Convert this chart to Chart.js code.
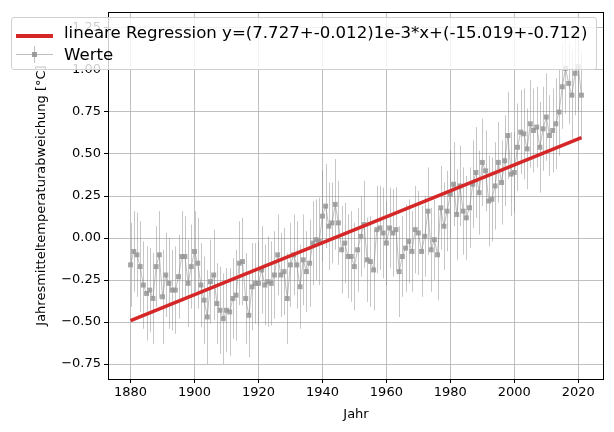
<!DOCTYPE html>
<html>
<head>
<meta charset="utf-8">
<script src="https://cdn.jsdelivr.net/npm/chart.js@4.4.1/dist/chart.umd.min.js"></script>
<style>
  body { margin: 0; background: #fff; }
  #wrap { position: relative; width: 614px; height: 432px; }
  #legend {
    position: absolute; left: 11px; top: 17px; width: 584px; height: 51px;
    background: rgba(255,255,255,0.8); border: 1px solid #d0d0d0; border-radius: 3px;
    font: 16.6px 'DejaVu Sans', sans-serif; color: #000;
  }
  #legend .txt { position: absolute; left: 52px; line-height: 20px; white-space: nowrap; }
</style>
</head>
<body>
<div id="wrap">
  <canvas id="chart" width="614" height="432"></canvas>
  <div id="legend">
    <div style="position:absolute;left:4px;top:16px;width:37px;height:4px;background:#d62728"></div>
    <div class="txt" style="top:5px">lineare Regression y=(7.727+-0.012)1e-3*x+(-15.019+-0.712)</div>
    <div style="position:absolute;left:4px;top:36px;width:37px;height:1px;background:rgba(128,128,128,0.5)"></div>
    <div style="position:absolute;left:22px;top:28px;width:1px;height:17px;background:rgba(128,128,128,0.5)"></div>
    <div style="position:absolute;left:20px;top:34px;width:5px;height:5px;background:rgba(150,150,150,0.9)"></div>
    <div class="txt" style="top:27px">Werte</div>
  </div>
</div>
<script>
// Jahresmittel der Temperaturabweichung
const years = [];
for (let y = 1880; y <= 2021; y++) years.push(y);

const anomalies = [
  -0.16, -0.08, -0.10, -0.17, -0.28, -0.33, -0.31, -0.36, -0.17, -0.10,
  -0.35, -0.22, -0.27, -0.31, -0.31, -0.23, -0.11, -0.11, -0.27, -0.17,
  -0.08, -0.15, -0.28, -0.37, -0.47, -0.26, -0.22, -0.39, -0.43, -0.48,
  -0.43, -0.44, -0.36, -0.34, -0.15, -0.14, -0.36, -0.46, -0.29, -0.27,
  -0.27, -0.19, -0.28, -0.26, -0.27, -0.22, -0.10, -0.22, -0.20, -0.36,
  -0.16, -0.10, -0.16, -0.29, -0.13, -0.20, -0.15, -0.03, -0.01, -0.02,
  0.13, 0.19, 0.07, 0.09, 0.20, 0.09, -0.07, -0.03, -0.11, -0.11,
  -0.17, -0.07, 0.01, 0.08, -0.13, -0.14, -0.19, 0.05, 0.06, 0.03,
  -0.03, 0.06, 0.03, 0.05, -0.20, -0.11, -0.06, -0.02, -0.08, 0.05,
  0.03, -0.08, 0.01, 0.16, -0.07, -0.01, -0.10, 0.18, 0.07, 0.16,
  0.26, 0.32, 0.14, 0.31, 0.16, 0.12, 0.18, 0.32, 0.39, 0.27,
  0.45, 0.40, 0.22, 0.23, 0.31, 0.45, 0.33, 0.46, 0.61, 0.38,
  0.39, 0.54, 0.63, 0.62, 0.53, 0.68, 0.64, 0.66, 0.54, 0.65,
  0.72, 0.61, 0.64, 0.68, 0.75, 0.90, 1.01, 0.92, 0.85, 0.98,
  1.02, 0.85
];

const errors = [
  0.25, 0.24, 0.25, 0.27, 0.26, 0.28, 0.25, 0.27, 0.24, 0.26,
  0.28, 0.25, 0.27, 0.24, 0.26, 0.25, 0.27, 0.24, 0.26, 0.25,
  0.24, 0.27, 0.25, 0.26, 0.28, 0.25, 0.27, 0.24, 0.26, 0.27,
  0.25, 0.26, 0.24, 0.27, 0.25, 0.26, 0.27, 0.25, 0.26, 0.24,
  0.25, 0.26, 0.24, 0.27, 0.25, 0.26, 0.24, 0.25, 0.26, 0.27,
  0.25, 0.24, 0.26, 0.25, 0.27, 0.24, 0.26, 0.25, 0.24, 0.26,
  0.27, 0.25, 0.26, 0.24, 0.27, 0.25, 0.26, 0.24, 0.25, 0.27,
  0.26, 0.25, 0.24, 0.26, 0.25, 0.27, 0.24, 0.26, 0.25, 0.27,
  0.25, 0.24, 0.26, 0.25, 0.27, 0.24, 0.26, 0.25, 0.24, 0.26,
  0.25, 0.27, 0.24, 0.26, 0.25, 0.24, 0.27, 0.25, 0.26, 0.24,
  0.26, 0.25, 0.27, 0.24, 0.26, 0.25, 0.24, 0.26, 0.27, 0.25,
  0.26, 0.24, 0.27, 0.25, 0.26, 0.24, 0.25, 0.27, 0.26, 0.25,
  0.24, 0.26, 0.25, 0.27, 0.24, 0.26, 0.25, 0.24, 0.27, 0.25,
  0.26, 0.24, 0.25, 0.27, 0.26, 0.25, 0.27, 0.24, 0.26, 0.25,
  0.27, 0.26
];

// Regressionsgerade: Endpunkte
const regX = [1880, 2021];
const regY = [-0.492, 0.597];

const xTicks = [1880, 1900, 1920, 1940, 1960, 1980, 2000, 2020];
const yTicks = [-0.75, -0.5, -0.25, 0, 0.25, 0.5, 0.75, 1.0, 1.25];

const points = years.map((y, i) => ({ x: y, y: anomalies[i] }));
const regPoints = regX.map((x, i) => ({ x: x, y: regY[i] }));

Chart.defaults.font.family = "'DejaVu Sans', sans-serif";
Chart.defaults.font.size = 13;
Chart.defaults.color = '#000';

// Fehlerbalken unter den Datenpunkten
const errorBars = {
  id: 'errorBars',
  beforeDatasetsDraw(chart) {
    const ctx = chart.ctx;
    const xs = chart.scales.x, ys = chart.scales.y;
    const area = chart.chartArea;
    ctx.save();
    ctx.beginPath();
    ctx.rect(area.left, area.top, area.right - area.left, area.bottom - area.top);
    ctx.clip();
    ctx.strokeStyle = 'rgba(128,128,128,0.45)';
    ctx.lineWidth = 1;
    years.forEach((yr, i) => {
      const px = Math.round(xs.getPixelForValue(yr)) + 0.5;
      ctx.beginPath();
      ctx.moveTo(px, ys.getPixelForValue(anomalies[i] - errors[i]));
      ctx.lineTo(px, ys.getPixelForValue(anomalies[i] + errors[i]));
      ctx.stroke();
    });
    ctx.restore();
  }
};

// Rahmen um die Achsenfläche
const frame = {
  id: 'frame',
  afterDatasetsDraw(chart) {
    const { ctx, chartArea: a } = chart;
    ctx.save();
    ctx.strokeStyle = '#000';
    ctx.lineWidth = 1;
    ctx.strokeRect(Math.round(a.left) + 0.5, Math.round(a.top) + 0.5,
      Math.round(a.right - a.left) - 1, Math.round(a.bottom - a.top));
    ctx.restore();
  }
};

new Chart(document.getElementById('chart'), {
  type: 'scatter',
  data: {
    datasets: [
      {
        label: 'lineare Regression y=(7.727+-0.012)1e-3*x+(-15.019+-0.712)',
        type: 'line',
        data: regPoints,
        borderColor: '#d62728',
        borderWidth: 3.5,
        pointRadius: 0,
        order: 0
      },
      {
        label: 'Werte',
        type: 'line',
        data: points,
        borderColor: 'rgba(128,128,128,0.5)',
        borderWidth: 1,
        pointStyle: 'rect',
        pointRadius: 3.5,
        pointBackgroundColor: 'rgba(150,150,150,0.85)',
        pointBorderWidth: 0,
        order: 1
      }
    ]
  },
  options: {
    responsive: false,
    animation: false,
    devicePixelRatio: 1,
    layout: { padding: { top: 12, right: 10, left: 0, bottom: 0 } },
    plugins: { legend: { display: false }, tooltip: { enabled: false } },
    scales: {
      x: {
        type: 'linear',
        min: 1872.95,
        max: 2028.05,
        afterFit(scale) { scale.height = 53; },
        afterBuildTicks(scale) { scale.ticks = xTicks.map(v => ({ value: v })); },
        ticks: { padding: 2, maxRotation: 0, callback: v => String(v) },
        grid: { color: '#b0b0b0', lineWidth: 0.8, tickColor: '#000', tickLength: 4, tickWidth: 1 },
        border: { display: false },
        title: { display: true, text: 'Jahr', padding: { top: 0, bottom: 10 } }
      },
      y: {
        type: 'linear',
        min: -0.839,
        max: 1.345,
        afterFit(scale) { scale.width = 108; },
        afterBuildTicks(scale) { scale.ticks = yTicks.map(v => ({ value: v })); },
        ticks: {
          padding: 3,
          callback: v => (v < 0 ? '\u2212' : '') + Math.abs(v).toFixed(2)
        },
        grid: { color: '#b0b0b0', lineWidth: 0.8, tickColor: '#000', tickLength: 4, tickWidth: 1 },
        border: { display: false },
        title: { display: true, text: 'Jahresmitteltemperaturabweichung [°C]', padding: { top: 34, bottom: 0 } }
      }
    }
  },
  plugins: [errorBars, frame]
});
</script>
</body>
</html>
